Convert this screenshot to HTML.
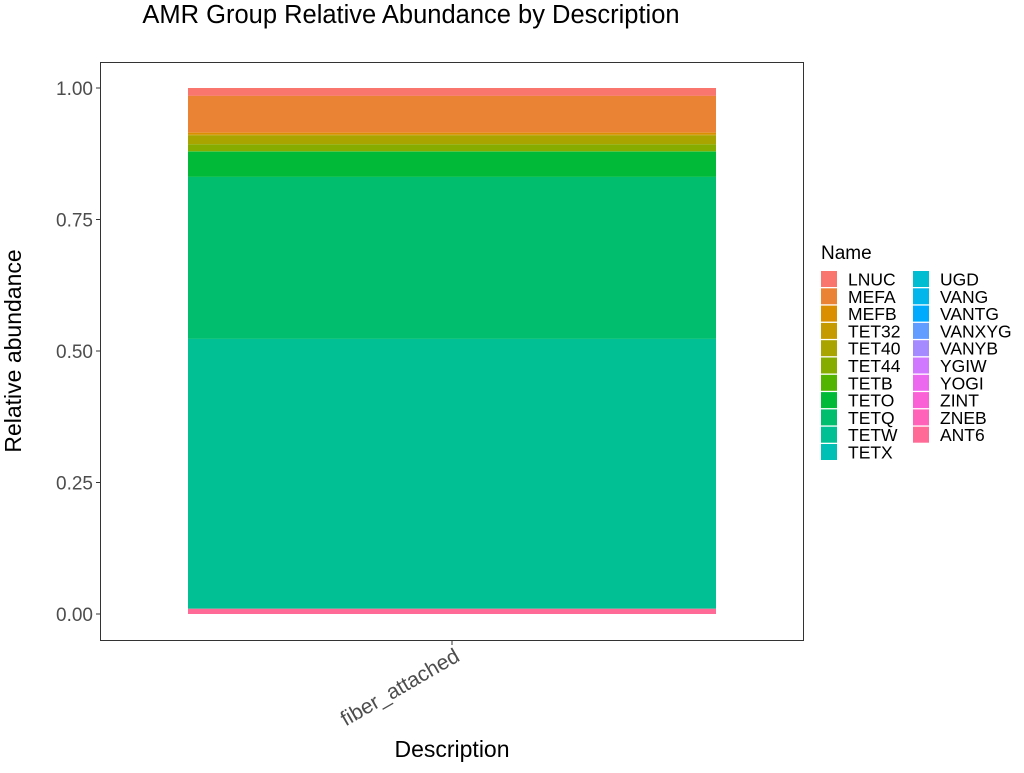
<!DOCTYPE html>
<html><head><meta charset="utf-8"><style>
body{margin:0;background:#fff;font-family:"Liberation Sans",sans-serif}
</style></head><body>
<svg id="c" width="1024" height="768" xmlns="http://www.w3.org/2000/svg">
<text x="411" y="23" font-size="25.5" text-anchor="middle" fill="#000">AMR Group Relative Abundance by Description</text>
<rect x="100.5" y="62.5" width="703" height="578" fill="#fff" stroke="#333" stroke-width="1"/>
<g id="bars"></g>
<g id="yaxis"></g>
<text x="452" y="757" font-size="23" text-anchor="middle">Description</text>
<text transform="translate(21,351) rotate(-90)" font-size="23" text-anchor="middle">Relative abundance</text>
<text x="821" y="259" font-size="19">Name</text>
<g id="legend"></g>
</svg>
<script>
const names=["LNUC","MEFA","MEFB","TET32","TET40","TET44","TETB","TETO","TETQ","TETW","TETX","UGD","VANG","VANTG","VANXYG","VANYB","YGIW","YOGI","ZINT","ZNEB","ANT6"];
const values=[0.015,0.070,0.004,0.001,0.017,0.013,0.001,0.048,0.308,0.513,0,0,0,0,0,0,0,0,0,0,0.010];
const categories=["fiber_attached"];
const yTicks=[0,0.25,0.5,0.75,1.0];
const yTickLabels=["0.00","0.25","0.50","0.75","1.00"];
const NS="http://www.w3.org/2000/svg";
function y(v){return 614-v*526;}
function hcl(h,c,l){const hr=h*Math.PI/180;const L=l,U=c*Math.cos(hr),V=c*Math.sin(hr);
const Xn=95.047,Yn=100,Zn=108.883;const un=4*Xn/(Xn+15*Yn+3*Zn),vn=9*Yn/(Xn+15*Yn+3*Zn);
const Y=L>8?Yn*Math.pow((L+16)/116,3):Yn*L/903.3;const u=U/(13*L)+un,v=V/(13*L)+vn;
const X=9*Y*u/(4*v),Z=-X/3-5*Y+3*Y/v;
let r=(3.240479*X-1.53715*Y-0.498535*Z)/100,g=(-0.969256*X+1.875992*Y+0.041556*Z)/100,b=(0.055648*X-0.204043*Y+1.057311*Z)/100;
const gm=t=>{t=t>0.0031308?1.055*Math.pow(t,1/2.4)-0.055:12.92*t;return Math.round(Math.max(0,Math.min(1,t))*255)};
return `rgb(${gm(r)},${gm(g)},${gm(b)})`;}
const n=names.length;const cols=names.map((_,i)=>hcl(15+360/n*i,100,65));
const bars=document.getElementById('bars');
let cum=1;
names.forEach((nm,i)=>{const v=values[i];if(v<=0)return;
const r=document.createElementNS(NS,'rect');
r.setAttribute('x',188);r.setAttribute('width',528);
r.setAttribute('y',y(cum));r.setAttribute('height',v*526);r.setAttribute('fill',cols[i]);


bars.appendChild(r);cum-=v;});
const ya=document.getElementById('yaxis');
yTicks.forEach((t,i)=>{const l=document.createElementNS(NS,'line');
l.setAttribute('x1',96);l.setAttribute('x2',100);l.setAttribute('y1',y(t));l.setAttribute('y2',y(t));l.setAttribute('stroke','#333');


ya.appendChild(l);
const tx=document.createElementNS(NS,'text');tx.setAttribute('x',93);tx.setAttribute('y',y(t)+7);tx.setAttribute('text-anchor','end');
tx.setAttribute('font-size','19');tx.setAttribute('fill','#4d4d4d');tx.textContent=yTickLabels[i];


ya.appendChild(tx);});
categories.forEach(c=>{const l=document.createElementNS(NS,'line');
l.setAttribute('x1',452);l.setAttribute('x2',452);l.setAttribute('y1',641);l.setAttribute('y2',645);l.setAttribute('stroke','#333');


ya.appendChild(l);
const tx=document.createElementNS(NS,'text');tx.setAttribute('text-anchor','end');tx.setAttribute('font-size','21');tx.setAttribute('fill','#4d4d4d');
tx.setAttribute('transform','translate(461,660) rotate(-30)');tx.textContent=c;


ya.appendChild(tx);});
const lg=document.getElementById('legend');
names.forEach((nm,i)=>{const col=i<11?0:1,row=i<11?i:i-11;
const kx=col?913:821,ky=271+row*17.3;
const r=document.createElementNS(NS,'rect');r.setAttribute('x',kx);r.setAttribute('y',ky);r.setAttribute('width',16);r.setAttribute('height',16);r.setAttribute('fill',cols[i]);


lg.appendChild(r);
const t=document.createElementNS(NS,'text');t.setAttribute('x',kx+27);t.setAttribute('y',ky+14.5);t.setAttribute('font-size','17.5');t.textContent=nm;


lg.appendChild(t);});
</script>
</body></html>
